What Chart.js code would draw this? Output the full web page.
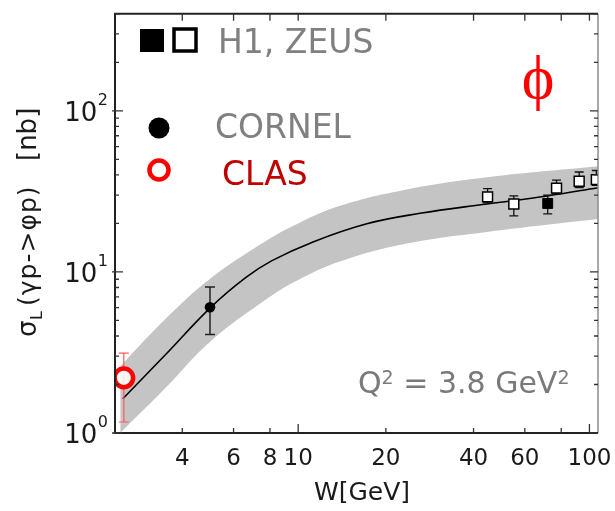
<!DOCTYPE html>
<html>
<head>
<meta charset="utf-8">
<script src="https://cdn.jsdelivr.net/npm/chart.js@4/dist/chart.umd.min.js"></script>
<style>
  html, body { margin: 0; padding: 0; background: #fff; }
  canvas { display: block; }
</style>
</head>
<body>
<canvas id="phiChart" width="615" height="511"></canvas>
<script>
// axis ticks
const xTicks = [4, 6, 8, 10, 20, 40, 60, 80, 100];
const xTickLabels = ["4", "6", "8", "10", "20", "40", "60", "", "100"];
const yTicks = [1, 10, 100];
const yTickExp = ["0", "1", "2"];

// model curve and its uncertainty band (W in GeV, sigma in nb)
const curveW = [2.5, 3.5, 5, 6.6, 8.1, 11.3, 17.2, 26.2, 44.5, 71.6, 107];
const curveSigma = [1.63, 3.06, 6.0, 9.2, 11.7, 15.4, 19.9, 23.1, 26.4, 29.6, 33.3];
const bandW = [2.45, 3.5, 5, 8, 10, 13.9, 23.6, 44.5, 110];
const bandUp = [2.6, 5.1, 9.1, 16.1, 20.0, 25.7, 32.5, 38.7, 45.5];
const bandLo = [1.0, 1.9, 3.7, 7.0, 8.9, 11.6, 15.0, 17.7, 21.4];

// data points
const zeusW = [44.7, 55, 77.1, 92.2, 105.6];
const zeusSigma = [29.2, 26.4, 33.1, 36.5, 37.4];
const zeusHi = [32.9, 29.6, 37.1, 41.7, 42.6];
const zeusLo = [26.8, 22.3, 30.5, 33.4, 34.5];
const h1W = [71.9];
const h1Sigma = [26.6];
const h1Hi = [29.9];
const h1Lo = [22.9];
const cornelW = [4.98];
const cornelSigma = [6.03];
const cornelHi = [8.07];
const cornelLo = [4.09];
const clasW = [2.52];
const clasSigma = [2.2];
const clasHi = [3.13];
const clasLo = [1.17];

const pts = (xs, ys) => xs.map((x, i) => ({ x: x, y: ys[i] }));

const errorSets = [
  { w: zeusW, hi: zeusHi, lo: zeusLo, color: "#111", width: 1.3, cap: 4.5 },
  { w: h1W, hi: h1Hi, lo: h1Lo, color: "#111", width: 1.3, cap: 4.5 },
  { w: cornelW, hi: cornelHi, lo: cornelLo, color: "#222", width: 1.5, cap: 5 },
  { w: clasW, hi: clasHi, lo: clasLo, color: "#ff5a5a", width: 1.2, cap: 5 }
];

function drawErrorBars(chart) {
  const { ctx, scales: { x, y }, chartArea: a } = chart;
  ctx.save();
  ctx.beginPath();
  ctx.rect(a.left, a.top, a.right - a.left, a.bottom - a.top);
  ctx.clip();
  errorSets.forEach(s => {
    ctx.strokeStyle = s.color;
    ctx.lineWidth = s.width;
    s.w.forEach((w, i) => {
      const px = x.getPixelForValue(w);
      const top = y.getPixelForValue(s.hi[i]);
      const bot = y.getPixelForValue(s.lo[i]);
      ctx.beginPath();
      ctx.moveTo(px, top); ctx.lineTo(px, bot);
      ctx.moveTo(px - s.cap, top); ctx.lineTo(px + s.cap, top);
      ctx.moveTo(px - s.cap, bot); ctx.lineTo(px + s.cap, bot);
      ctx.stroke();
    });
  });
  ctx.restore();
}

function textWithSup(ctx, parts, x, baseline) {
  // parts: [text, fontPx, raise]
  let cx = x;
  parts.forEach(p => {
    ctx.font = p[1] + "px 'DejaVu Sans'";
    ctx.fillText(p[0], cx, baseline - p[2]);
    cx += ctx.measureText(p[0]).width;
  });
  return cx;
}

function drawFrame(chart) {
  const { ctx, chartArea: a, scales: { x, y } } = chart;
  ctx.save();

  // frame
  ctx.lineCap = "butt";
  ctx.strokeStyle = "#8c8c8c";
  ctx.lineWidth = 1.5;
  ctx.beginPath();
  ctx.moveTo(a.right, a.top); ctx.lineTo(a.right, a.bottom);
  ctx.stroke();
  ctx.strokeStyle = "#222";
  ctx.lineWidth = 2;
  ctx.beginPath();
  ctx.moveTo(a.right, a.top); ctx.lineTo(a.left, a.top);
  ctx.lineTo(a.left, a.bottom); ctx.lineTo(a.right, a.bottom);
  ctx.stroke();

  // x ticks (bottom and top, pointing inward)
  ctx.lineWidth = 1.3;
  ctx.strokeStyle = "#333";
  xTicks.forEach(v => {
    const px = x.getPixelForValue(v);
    const len = (v === 10 || v === 100) ? 9 : 5;
    ctx.beginPath();
    ctx.moveTo(px, a.bottom); ctx.lineTo(px, a.bottom - len);
    ctx.moveTo(px, a.top); ctx.lineTo(px, a.top + 7);
    ctx.stroke();
  });

  // y ticks, major and minor, on both sides
  for (let k = 0; k <= 2; k++) {
    for (let m = 1; m <= 9; m++) {
      const v = m * Math.pow(10, k);
      if (v > y.max) break;
      const py = y.getPixelForValue(v);
      const len = m === 1 ? 8 : 4;
      ctx.beginPath();
      ctx.moveTo(a.left - (m === 1 ? 3 : 0), py); ctx.lineTo(a.left + len, py);
      ctx.moveTo(a.right, py); ctx.lineTo(a.right - len, py);
      ctx.stroke();
    }
  }

  // x tick labels
  ctx.fillStyle = "#1a1a1a";
  ctx.textAlign = "center";
  ctx.textBaseline = "alphabetic";
  ctx.font = "23px 'DejaVu Sans'";
  xTicks.forEach((v, i) => {
    if (xTickLabels[i]) ctx.fillText(xTickLabels[i], x.getPixelForValue(v), 465);
  });

  // y tick labels 10^n
  ctx.textAlign = "right";
  yTicks.forEach((v, i) => {
    const py = y.getPixelForValue(v);
    ctx.font = "16px 'DejaVu Sans'";
    ctx.fillText(yTickExp[i], 108, py - 6);
    const sw = ctx.measureText(yTickExp[i]).width;
    ctx.font = "26px 'DejaVu Sans'";
    ctx.fillText("10", 108 - sw - 0.5, py + 10);
  });

  // x axis title
  ctx.textAlign = "center";
  ctx.font = "25px 'DejaVu Sans'";
  ctx.fillText("W[GeV]", 362, 500);

  // y axis title, rotated
  ctx.save();
  ctx.translate(36, 337);
  ctx.rotate(-Math.PI / 2);
  ctx.textAlign = "left";
  ctx.fillStyle = "#1a1a1a";
  ctx.font = "26px 'DejaVu Sans'";
  ctx.fillText("σ", 0, 0);
  ctx.font = "16px 'DejaVu Sans'";
  ctx.fillText("L", 17, 6);
  ctx.font = "25px 'DejaVu Sans'";
  ctx.letterSpacing = "1px";
  ctx.fillText("(γp->φp)", 31, 0);
  ctx.letterSpacing = "0px";
  ctx.font = "26px 'DejaVu Sans'";
  ctx.fillText("[nb]", 176, 0);
  ctx.restore();

  // in-plot legend
  ctx.fillStyle = "#000";
  ctx.fillRect(140, 29, 24, 23);
  ctx.strokeStyle = "#000";
  ctx.lineWidth = 3.5;
  ctx.strokeRect(174, 29, 22, 22);
  ctx.beginPath();
  ctx.arc(159, 128, 10.5, 0, Math.PI * 2);
  ctx.fill();
  ctx.strokeStyle = "#ff0000";
  ctx.lineWidth = 4.5;
  ctx.beginPath();
  ctx.arc(159, 170, 9.5, 0, Math.PI * 2);
  ctx.stroke();

  ctx.textAlign = "left";
  ctx.font = "33px 'DejaVu Sans'";
  ctx.fillStyle = "#808080";
  ctx.fillText("H1, ZEUS", 218, 53);
  ctx.fillText("CORNEL", 215, 138);
  ctx.fillStyle = "#c00000";
  ctx.fillText("CLAS", 222, 185);

  // phi label
  ctx.fillStyle = "#ff0000";
  ctx.textAlign = "center";
  ctx.font = "62px 'Liberation Serif'";
  ctx.fillText("ϕ", 538, 98);

  // Q^2 label
  ctx.fillStyle = "#7a7a7a";
  ctx.textAlign = "left";
  textWithSup(ctx, [["Q", 30, 0], ["2", 19, 9], [" = 3.8 GeV", 30, 0], ["2", 19, 9]], 358, 393);

  ctx.restore();
}

const overlay = {
  id: "overlay",
  afterDatasetDraw(chart, args) {
    if (args.index === 2) drawErrorBars(chart);
  },
  afterDraw(chart) {
    drawFrame(chart);
  }
};

new Chart(document.getElementById("phiChart").getContext("2d"), {
  type: "line",
  data: {
    datasets: [
      { label: "band upper", data: pts(bandW, bandUp), borderWidth: 0, pointRadius: 0,
        fill: "+1", backgroundColor: "#c4c4c4", tension: 0.4, order: 3, clip: 0 },
      { label: "band lower", data: pts(bandW, bandLo), borderWidth: 0, pointRadius: 0,
        fill: false, tension: 0.4, order: 3, clip: 0 },
      { label: "model", data: pts(curveW, curveSigma), borderColor: "#000", borderWidth: 1.6, pointRadius: 0,
        fill: false, tension: 0.4, order: 2, clip: 0 },
      { label: "ZEUS", data: pts(zeusW, zeusSigma), showLine: false, pointStyle: "rect", pointRadius: 7,
        pointBackgroundColor: "#fff", pointBorderColor: "#000", pointBorderWidth: 1.5, order: 1, clip: 0 },
      { label: "H1", data: pts(h1W, h1Sigma), showLine: false, pointStyle: "rect", pointRadius: 7,
        pointBackgroundColor: "#000", pointBorderColor: "#000", pointBorderWidth: 1, order: 1, clip: 0 },
      { label: "CORNEL", data: pts(cornelW, cornelSigma), showLine: false, pointStyle: "circle", pointRadius: 5.3,
        pointBackgroundColor: "#000", pointBorderColor: "#000", pointBorderWidth: 0, order: 1, clip: 0 },
      { label: "CLAS", data: pts(clasW, clasSigma), showLine: false, pointStyle: "circle", pointRadius: 9.3,
        pointBackgroundColor: "rgba(255,255,255,0.85)", pointBorderColor: "#ff0000", pointBorderWidth: 4.5, order: 1, clip: 0 }
    ]
  },
  options: {
    responsive: false,
    animation: false,
    layout: { padding: { left: 115, right: 17, top: 7, bottom: 78 } },
    scales: {
      x: { type: "logarithmic", min: 2.35, max: 107, display: false },
      y: { type: "logarithmic", min: 1, max: 400, display: false }
    },
    plugins: { legend: { display: false }, tooltip: { enabled: false } }
  },
  plugins: [overlay]
});
</script>
</body>
</html>
